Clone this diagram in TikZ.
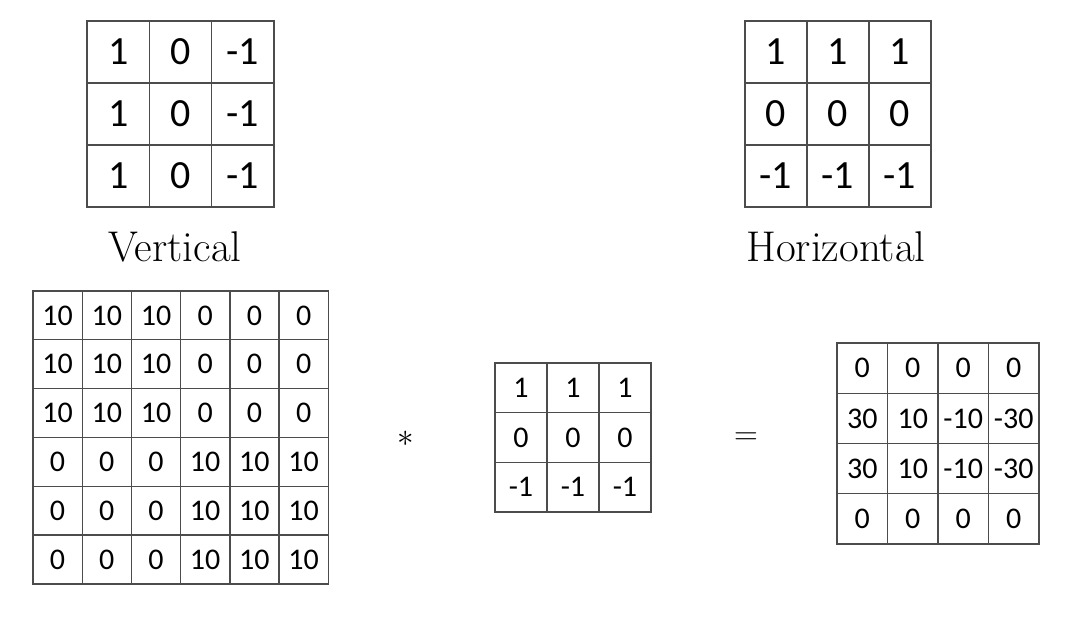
\RequirePackage{fix-cm}
\documentclass[tikz,border=0pt]{standalone}
\usepackage{fontspec}
\newfontfamily\cellfont{Carlito}

\begin{document}
\begin{tikzpicture}[x=1pt,y=-1pt,
  cell/.style={draw=black!70, line width=1.4pt, inner sep=0pt, outer sep=0pt, text depth=0pt},
  kbig/.style={cell, minimum width=62.3pt, minimum height=62pt, font=\cellfont\fontsize{40}{40}\selectfont},
  ksmall/.style={cell, font=\cellfont\fontsize{30}{30}\selectfont},
  caption/.style={anchor=base, font=\fontsize{43}{43}\selectfont},
  op/.style={font=\fontsize{33}{33}\selectfont}]
  \useasboundingbox (0,0) rectangle (1079,617);

  % vertical edge filter
  \foreach \row [count=\r] in {{1,0,-1},{1,0,-1},{1,0,-1}}
    \foreach \val [count=\c] in \row
      \node[kbig] (v\r\c) at ({87+62.3*(\c-0.5)},{21+62*(\r-0.5)}) {\val};
  \node[caption] (vlabel) at (175,262) {Vertical};

  % horizontal edge filter
  \foreach \row [count=\r] in {{1,1,1},{0,0,0},{-1,-1,-1}}
    \foreach \val [count=\c] in \row
      \node[kbig] (h\r\c) at ({745+62*(\c-0.5)},{21+62*(\r-0.5)}) {\val};
  \node[caption] (hlabel) at (836,262) {Horizontal};

  % input image
  \foreach \row [count=\r] in {{10,10,10,0,0,0},{10,10,10,0,0,0},{10,10,10,0,0,0},
                               {0,0,0,10,10,10},{0,0,0,10,10,10},{0,0,0,10,10,10}}
    \foreach \val [count=\c] in \row
      \node[ksmall, minimum width=49.2pt, minimum height=48.8pt] (img\r\c)
        at ({33+49.2*(\c-0.5)},{291+48.8*(\r-0.5)}) {\val};

  \node[op] (times) at (406,439) {$*$};

  % kernel
  \foreach \row [count=\r] in {{1,1,1},{0,0,0},{-1,-1,-1}}
    \foreach \val [count=\c] in \row
      \node[ksmall, minimum width=52pt, minimum height=49.7pt] (k\r\c)
        at ({495+52*(\c-0.5)},{363+49.7*(\r-0.5)}) {\val};

  \node[op] (equals) at (746,439) {$=$};

  % result
  \foreach \row [count=\r] in {{0,0,0,0},{30,10,-10,-30},{30,10,-10,-30},{0,0,0,0}}
    \foreach \val [count=\c] in \row
      \node[ksmall, minimum width=50.5pt, minimum height=50.25pt] (res\r\c)
        at ({837+50.5*(\c-0.5)},{343+50.25*(\r-0.5)}) {\val};
\end{tikzpicture}
\end{document}
